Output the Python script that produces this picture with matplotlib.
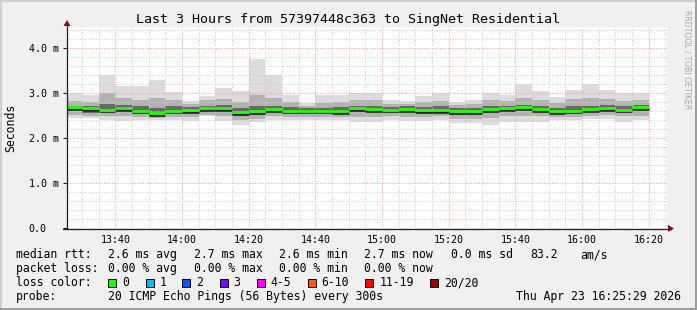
import matplotlib
matplotlib.use('Agg')
import matplotlib.pyplot as plt
import numpy as np
from matplotlib.patches import Rectangle, Polygon
from matplotlib.lines import Line2D
import matplotlib.patheffects as pe

W, H, DPI = 697, 310, 100
MONO = 'DejaVu Sans Mono'

# ---- data: round-trip times (ms) per 5-minute interval, first interval starts 13:25
rtt_max    = [3.01, 2.95, 3.39, 3.15, 3.15, 3.30, 3.03, 2.83, 2.93, 3.12, 3.05, 3.76,
              3.39, 2.95, 2.78, 2.95, 2.96, 3.01, 3.00, 2.85, 2.83, 2.93, 3.00, 2.80,
              2.85, 3.00, 2.96, 3.21, 3.05, 2.92, 3.07, 3.20, 3.07, 3.00, 3.00]
rtt_hi     = [2.82, 2.80, 3.00, 2.88, 2.84, 2.88, 2.84, 2.76, 2.84, 2.86, 2.80, 2.95,
              2.90, 2.80, 2.72, 2.78, 2.80, 2.84, 2.84, 2.76, 2.76, 2.80, 2.82, 2.74,
              2.76, 2.84, 2.82, 2.90, 2.84, 2.78, 2.86, 2.88, 2.86, 2.82, 2.84]
rtt_ihi    = [2.72, 2.70, 2.75, 2.74, 2.70, 2.66, 2.70, 2.68, 2.72, 2.74, 2.66, 2.70,
              2.72, 2.68, 2.66, 2.67, 2.68, 2.72, 2.72, 2.68, 2.70, 2.69, 2.70, 2.66,
              2.66, 2.70, 2.72, 2.74, 2.70, 2.66, 2.70, 2.72, 2.73, 2.70, 2.74]
rtt_median = [2.68, 2.66, 2.63, 2.66, 2.61, 2.55, 2.61, 2.62, 2.67, 2.67, 2.58, 2.59,
              2.64, 2.61, 2.61, 2.61, 2.59, 2.66, 2.65, 2.63, 2.65, 2.62, 2.62, 2.59,
              2.59, 2.64, 2.66, 2.68, 2.64, 2.59, 2.61, 2.64, 2.66, 2.63, 2.68]
rtt_ilo    = [2.62, 2.56, 2.57, 2.60, 2.54, 2.50, 2.55, 2.55, 2.62, 2.60, 2.50, 2.52,
              2.58, 2.54, 2.55, 2.55, 2.53, 2.58, 2.58, 2.57, 2.58, 2.56, 2.56, 2.52,
              2.52, 2.57, 2.60, 2.62, 2.58, 2.53, 2.54, 2.58, 2.60, 2.57, 2.62]
rtt_lo     = [2.52, 2.50, 2.48, 2.48, 2.47, 2.45, 2.47, 2.46, 2.52, 2.48, 2.40, 2.42,
              2.48, 2.47, 2.47, 2.46, 2.46, 2.46, 2.46, 2.48, 2.47, 2.47, 2.48, 2.42,
              2.42, 2.45, 2.48, 2.50, 2.48, 2.46, 2.46, 2.50, 2.51, 2.48, 2.50]
rtt_min    = [2.44, 2.44, 2.39, 2.37, 2.41, 2.39, 2.41, 2.37, 2.48, 2.37, 2.28, 2.35,
              2.40, 2.41, 2.39, 2.39, 2.39, 2.36, 2.36, 2.39, 2.37, 2.37, 2.39, 2.33,
              2.33, 2.30, 2.36, 2.36, 2.36, 2.39, 2.39, 2.43, 2.43, 2.36, 2.39]

first_interval = "13:25"
interval_min = 5
view_start = "13:25:29"
view_end = "16:25:29"

x_tick_labels = ["13:40", "14:00", "14:20", "14:40", "15:00", "15:20", "15:40", "16:00", "16:20"]
y_tick_values = [0.0, 1.0, 2.0, 3.0, 4.0]
y_tick_labels = ["0.0", "1.0 m", "2.0 m", "3.0 m", "4.0 m"]

title = "Last 3 Hours from 57397448c363 to SingNet Residential"
loss_labels = ["0", "1", "2", "3", "4-5", "6-10", "11-19", "20/20"]
loss_colors = ["#26ff00", "#00b8ff", "#0059ff", "#7e00ff", "#ff00ff", "#ff5e00", "#ff0000", "#a10000"]


def to_min(s):
    parts = [int(p) for p in s.split(":")]
    while len(parts) < 3:
        parts.append(0)
    return parts[0] * 60 + parts[1] + parts[2] / 60.0


# ---- figure
fig = plt.figure(figsize=(W / DPI, H / DPI), dpi=DPI)
fig.patch.set_facecolor('#f0f0f0')


def P(x, y):
    return (x / W, 1 - y / H)


ax_left, ax_top, ax_right, ax_bottom = 67, 27, 667, 228
ax = fig.add_axes([ax_left / W, 1 - ax_bottom / H, (ax_right - ax_left) / W, (ax_bottom - ax_top) / H])
ax.set_facecolor('white')
for s in ax.spines.values():
    s.set_visible(False)

n = len(rtt_median)
t0 = to_min(first_interval)
edges = np.array([t0 + i * interval_min for i in range(n + 1)])

ax.stairs(rtt_max, edges, baseline=rtt_min, fill=True, color='#dcdcdc', lw=0, zorder=1)
ax.stairs(rtt_hi, edges, baseline=rtt_lo, fill=True, color='#b2b2b2', lw=0, zorder=1.1)
ax.stairs(rtt_ihi, edges, baseline=rtt_ilo, fill=True, color='#686868', lw=0, zorder=1.2)

ymax = (ax_bottom - ax_top) / 45.0
xs, xe = to_min(view_start), to_min(view_end)

# ticks / grid
xt = [to_min(l) for l in x_tick_labels]
ax.set_xticks(xt)
ax.set_xticklabels(x_tick_labels, fontfamily=MONO, fontsize=7.2)
minor_x = [m for m in np.arange(to_min("13:30"), xe, 5) if m not in xt]
ax.set_xticks(minor_x, minor=True)
ax.set_yticks(y_tick_values)
ax.set_yticklabels(y_tick_labels, fontfamily=MONO, fontsize=7.2, ha='left')
minor_y = [v for v in np.round(np.arange(0.2, ymax, 0.2), 2) if abs(v - round(v)) > 1e-6]
ax.set_yticks(minor_y, minor=True)
ax.set_xlim(xs, xe)
ax.set_ylim(0, ymax)

ax.tick_params(axis='x', which='both', length=0, pad=5)
ax.tick_params(axis='y', which='major', length=3, width=0.8, color='#202020', pad=24.5, direction='out')
ax.tick_params(axis='y', which='minor', length=0)

ax.set_axisbelow(False)
ax.grid(which='minor', color='#cfcfcf', linestyle=(0, (1, 1.5)), lw=0.75, zorder=2.5)
ax.grid(which='major', color='#f3a3a3', linestyle=(0, (1, 1.5)), lw=0.75, zorder=2.5)

ax.hlines(rtt_median, edges[:-1], edges[1:], colors=loss_colors[0], lw=2.0, zorder=4,
          path_effects=[pe.SimpleLineShadow(offset=(0, -1.3), shadow_color='#202020', alpha=0.9),
                        pe.Normal()])

# axes lines with arrows
axis_col = '#202020'
arrow_col = '#8b1010'
fig.add_artist(Line2D([P(63, 228)[0], P(671, 228)[0]], [P(63, 228.5)[1]] * 2, color=axis_col, lw=0.9))
fig.add_artist(Line2D([P(67, 0)[0]] * 2, [P(0, 228)[1], P(0, 24)[1]], color=axis_col, lw=0.9))
fig.add_artist(Polygon([P(668, 225), P(668, 232), P(674, 228.5)], closed=True, color=arrow_col, lw=0))
fig.add_artist(Polygon([P(63.5, 26), P(70.5, 26), P(67, 20)], closed=True, color=arrow_col, lw=0))

# texts
fig.text(*P(347.5, 19), title, fontfamily=MONO, fontsize=9.6, ha='center', va='center')
fig.text(*P(11, 128), "Seconds", fontfamily=MONO, fontsize=8.3, rotation=90, ha='center', va='center')
fig.text(*P(686.5, 60), "RRDTOOL / TOBI OETIKER", fontfamily='DejaVu Sans', fontsize=5.6,
         rotation=-90, ha='center', va='center', color='#a8a8a8')

LFS = 8.3
rows = [254.5, 268.5, 282.5, 296.5]
row1 = [(16, "median rtt:"), (107.6, "2.6 ms avg"), (194, "2.7 ms max"), (279, "2.6 ms min"),
        (364, "2.7 ms now"), (451, "0.0 ms sd"), (530, "83.2"), (580, "am/s")]
row2 = [(16, "packet loss:"), (107.6, "0.00 % avg"), (194, "0.00 % max"), (279, "0.00 % min"),
        (364, "0.00 % now")]
for xx, s in row1:
    fig.text(*P(xx, rows[0]), s, fontfamily=MONO, fontsize=LFS, ha='left', va='center')
for xx, s in row2:
    fig.text(*P(xx, rows[1]), s, fontfamily=MONO, fontsize=LFS, ha='left', va='center')

fig.text(*P(16, rows[2]), "loss color:", fontfamily=MONO, fontsize=LFS, ha='left', va='center')
box_x = [108.4, 145.8, 182.2, 219.6, 256.9, 307.6, 365.3, 430.2]
for bx, lab, col in zip(box_x, loss_labels, loss_colors):
    x0, y0 = P(bx, rows[2] + 4)
    fig.add_artist(Rectangle((x0, y0), 8 / W, 8 / H, facecolor=col, edgecolor='black', lw=0.7))
    fig.text(*P(bx + 14, rows[2]), lab, fontfamily=MONO, fontsize=LFS, ha='left', va='center')

fig.text(*P(16, rows[3]), "probe:", fontfamily=MONO, fontsize=LFS, ha='left', va='center')
fig.text(*P(107.6, rows[3]), "20 ICMP Echo Pings (56 Bytes) every 300s", fontfamily=MONO,
         fontsize=LFS, ha='left', va='center')
fig.text(*P(680.5, rows[3]), "Thu Apr 23 16:25:29 2026", fontfamily=MONO, fontsize=LFS,
         ha='right', va='center')

# frame shading
fig.add_artist(Rectangle(P(0, 2), 1, 2 / H, facecolor='#cfcfcf', lw=0))
fig.add_artist(Rectangle(P(0, H), 2 / W, 1, facecolor='#cfcfcf', lw=0))
fig.add_artist(Rectangle(P(W - 2, H), 2 / W, 1, facecolor='#9e9e9e', lw=0))
fig.add_artist(Rectangle(P(0, H), 1, 2 / H, facecolor='#9e9e9e', lw=0))

fig.savefig('out.png', dpi=DPI, facecolor=fig.get_facecolor())
